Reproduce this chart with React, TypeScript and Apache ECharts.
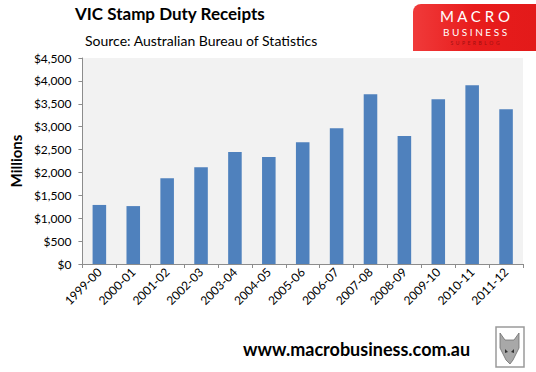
import React, { useEffect, useRef } from "react";
import * as echarts from "echarts";

const categories = ["1999-00", "2000-01", "2001-02", "2002-03", "2003-04", "2004-05", "2005-06", "2006-07", "2007-08", "2008-09", "2009-10", "2010-11", "2011-12"];
const receipts = [1290, 1265, 1875, 2115, 2445, 2335, 2660, 2965, 3710, 2795, 3600, 3905, 3380];
const yTicks = { min: 0, max: 4500, interval: 500 };

const FONT = "Lato, 'Open Sans', sans-serif";

export default function App() {
  const ref = useRef<HTMLDivElement>(null);
  useEffect(() => {
    if (!ref.current) return;
    const chart = echarts.init(ref.current, null, { renderer: "svg" });
    chart.setOption({
      animation: false,
      backgroundColor: "#ffffff",
      textStyle: { fontFamily: FONT },
      grid: { left: 74, top: 58, right: 13, bottom: 108, show: true, backgroundColor: "#f2f2f2", borderWidth: 0 },
      xAxis: {
        type: "category",
        data: categories,
        axisLine: { show: true, lineStyle: { color: "#8c8c8c", width: 1 } },
        axisTick: { show: true, alignWithLabel: false, length: 4, lineStyle: { color: "#8c8c8c" } },
        axisLabel: { rotate: 45, fontSize: 12, color: "#000", fontFamily: FONT, margin: 6, interval: 0 },
      },
      yAxis: {
        type: "value",
        min: yTicks.min,
        max: yTicks.max,
        interval: yTicks.interval,
        name: "Millions",
        nameLocation: "middle",
        nameRotate: 90,
        nameGap: 54,
        nameTextStyle: { fontSize: 15, fontWeight: "bold", color: "#000", fontFamily: FONT },
        axisLine: { show: true, lineStyle: { color: "#8c8c8c", width: 1 } },
        axisTick: { show: true, inside: false, length: 4, lineStyle: { color: "#8c8c8c" } },
        splitLine: { show: false },
        axisLabel: {
          fontSize: 12,
          color: "#000",
          fontFamily: FONT,
          margin: 11,
          formatter: (v: number) => "$" + v.toLocaleString("en-US"),
        },
      },
      series: [
        {
          type: "bar",
          data: receipts,
          barCategoryGap: "60%",
          itemStyle: { color: "#4f81bd" },
        },
      ],
      graphic: [
        { type: "text", left: 75, top: 5, style: { text: "VIC Stamp Duty Receipts", font: `bold 17px ${FONT}`, fill: "#000" } },
        { type: "text", left: 85, top: 33, style: { text: "Source: Australian Bureau of Statistics", font: `14px ${FONT}`, fill: "#000" } },
        {
          type: "rect",
          shape: { x: 413, y: 4, width: 123, height: 47, r: [8, 0, 0, 0] },
          style: { fill: new echarts.graphic.LinearGradient(0, 0, 1, 0, [
            { offset: 0, color: "#f03a3a" },
            { offset: 0.5, color: "#e81c1c" },
            { offset: 1, color: "#e31a1a" },
          ]) },
        },
        { type: "text", x: 475, y: 16, style: { text: "M A C R O", font: `15px ${FONT}`, fill: "#ffffff", align: "center", verticalAlign: "middle" } },
        { type: "text", x: 475, y: 32, style: { text: "B U S I N E S S", font: `10px ${FONT}`, fill: "#ffffff", align: "center", verticalAlign: "middle" } },
        { type: "text", x: 475, y: 43, style: { text: "S  U  P  E  R  B  L  O  G", font: `5px ${FONT}`, fill: "#a01010", align: "center", verticalAlign: "middle" } },
        { type: "text", left: 243, top: 340, style: { text: "www.macrobusiness.com.au", font: `bold 18px ${FONT}`, fill: "#000" } },
        {
          type: "rect",
          shape: { x: 496, y: 327, width: 28, height: 40 },
          style: { fill: "#ffffff", stroke: "#9a9a9a", lineWidth: 1.5 },
        },
        {
          type: "polygon",
          shape: { points: [[500, 333], [505, 340], [514, 340], [519, 333], [519, 348], [513, 360], [510, 364], [506, 360], [500, 348]] },
          style: { fill: "#a8a8a8", stroke: "#6e6e6e", lineWidth: 0.8 },
        },
        {
          type: "polygon",
          shape: { points: [[505, 349], [508, 352], [505, 353]] },
          style: { fill: "#333" },
        },
        {
          type: "polygon",
          shape: { points: [[514, 349], [511, 352], [514, 353]] },
          style: { fill: "#333" },
        },
      ],
    });
    return () => chart.dispose();
  }, []);
  return <div ref={ref} style={{ width: 536, height: 372, position: "absolute", left: 0, top: 0 }} />;
}
